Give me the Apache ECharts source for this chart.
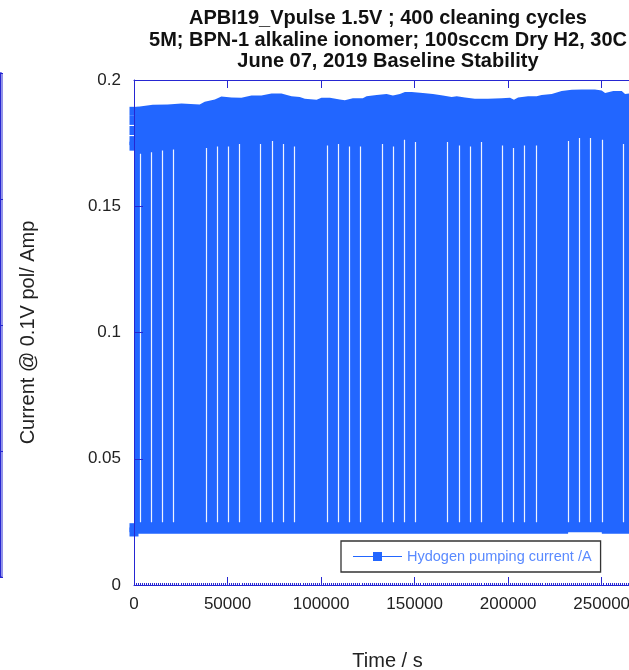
<!DOCTYPE html>
<html><head><meta charset="utf-8">
<script src="https://cdn.jsdelivr.net/npm/echarts@6/dist/echarts.min.js"></script>
<style>html,body{margin:0;padding:0;background:#fff}#c{width:629px;height:670px}</style>
</head><body><div id="c"></div>
<script>
// ---- chart data ----
const titleText = 'APBI19_Vpulse 1.5V ; 400 cleaning cycles\n5M; BPN-1 alkaline ionomer; 100sccm Dry H2, 30C\nJune 07, 2019 Baseline Stability';
const seriesName = 'Hydogen pumping current /A';
const xName = 'Time / s';
const yName = 'Current @ 0.1V pol/ Amp';
const xMin = 0, xMax = 271000, xStep = 50000;
const yMin = 0, yMax = 0.2, yStep = 0.05;

// upper envelope of the pulsed current (A) vs time (s)
const topTime = [0, 4100, 10000, 18000, 25400, 35100, 37800, 43200, 46700, 52100,
  57400, 62800, 68100, 73500, 78800, 84200, 88600, 91300, 97600, 100200,
  104700, 110000, 112700, 117000, 122300, 124300, 129700, 135000, 138400, 142100,
  144800, 148400, 154400, 159800, 165100, 169800, 172500, 176900, 182200, 189200,
  196500, 201000, 203100, 205300, 210600, 215200, 217900, 223300, 228600, 234000,
  239300, 246400, 250000, 251800, 256200, 260700, 262500, 271000];
const topValue = [0.1892, 0.1896, 0.1902, 0.1903, 0.1907, 0.1903, 0.1914, 0.1923, 0.1935, 0.1931,
  0.1930, 0.1939, 0.1939, 0.1947, 0.1947, 0.1936, 0.1933, 0.1926, 0.1922, 0.1930,
  0.1930, 0.1923, 0.1920, 0.1928, 0.1928, 0.1936, 0.1941, 0.1945, 0.1939, 0.1945,
  0.1952, 0.1952, 0.1949, 0.1945, 0.1939, 0.1933, 0.1936, 0.1931, 0.1926, 0.1926,
  0.1928, 0.1930, 0.1922, 0.1931, 0.1936, 0.1936, 0.1941, 0.1945, 0.1956, 0.1961,
  0.1962, 0.1962, 0.1958, 0.1949, 0.1956, 0.1956, 0.1945, 0.1950];
// lower envelope (base current between pulses)
const lowTime = [0, 232000, 232100, 250000, 250100, 271000];
const lowValue = [0.0203, 0.0203, 0.0209, 0.0209, 0.0203, 0.0203];
// pauses between pulse blocks (time, upper end of the pause)
const gapTime = [3000, 8900, 15000, 21100, 38400, 44200, 50300, 56200, 67600, 73500,
  79500, 85400, 102900, 108800, 114800, 120700, 132300, 138200, 144100, 150200,
  167400, 173500, 179600, 185400, 196700, 202700, 208600, 214700, 232100, 238000,
  243900, 250000, 261200];
const gapTop = [0.1708, 0.1714, 0.1721, 0.1725, 0.1731, 0.1737, 0.1737, 0.1747, 0.1747, 0.1758,
  0.1747, 0.1737, 0.1741, 0.1747, 0.1737, 0.1737, 0.1747, 0.1737, 0.1763, 0.1754,
  0.1754, 0.1741, 0.1737, 0.1754, 0.1741, 0.1731, 0.1741, 0.1741, 0.1758, 0.1770,
  0.1770, 0.1763, 0.1747];
const gapBottom = 0.0249;
// first recorded samples at t = 0
const firstTime = [0, 0, 0, 0, 0, 0, 0];
const firstValue = [0.1876, 0.1840, 0.1800, 0.1760, 0.1738, 0.0227, 0.0210];

// ---- styles ----
const bandColor = '#2266ff';
const axisColor = '#2626d2';
const gapColor = '#eef2ff';
const font = 'Liberation Sans, Arial, sans-serif';

const chart = echarts.init(document.getElementById('c'), null, {renderer: 'canvas'});
const fmtX = v => String(v);
const fmtY = v => String(+v.toFixed(2));

chart.setOption({
  animation: false,
  backgroundColor: '#fff',
  title: {
    text: titleText, left: 388, top: 8, textAlign: 'center', padding: 0,
    textStyle: {fontFamily: font, fontSize: 20, fontWeight: 'bold', color: '#111', lineHeight: 21.5}
  },
  legend: {
    left: 341, top: 541, orient: 'horizontal',
    backgroundColor: '#fff', borderColor: '#333', borderWidth: 1.3,
    padding: [8, 9, 8, 12], itemWidth: 49, itemHeight: 10,
    data: [{name: seriesName, icon: 'path://M0,4.5L20,4.5L20,0.5L29,0.5L29,9.5L20,9.5L20,5.5L0,5.5Z M29,4.5L49,4.5L49,5.5L29,5.5Z'}],
    textStyle: {fontFamily: font, fontSize: 14.5, color: '#5a8aff'}
  },
  grid: [
    {left: 134, top: 80, width: 507, height: 505, containLabel: false, outerBoundsMode: 'none'},
    {left: 0, top: 73, width: 2, height: 504, show: true, borderColor: axisColor, borderWidth: 1, containLabel: false, outerBoundsMode: 'none'}
  ],
  xAxis: [
    {
      type: 'value', gridIndex: 0, min: xMin, max: xMax, interval: xStep, position: 'bottom', z: 5,
      name: xName, nameLocation: 'middle', nameGap: 66,
      nameTextStyle: {fontFamily: font, fontSize: 20, color: '#222'},
      axisLine: {show: true, lineStyle: {color: axisColor, width: 1}},
      axisTick: {show: true, inside: true, length: 8, lineStyle: {color: axisColor}},
      minorTick: {show: true, splitNumber: 46, length: 2, lineStyle: {color: axisColor, width: 1}},
      axisLabel: {formatter: fmtX, margin: 11, fontFamily: font, fontSize: 17, color: '#222'},
      splitLine: {show: false}
    },
    {
      type: 'value', gridIndex: 0, min: xMin, max: xMax, interval: xStep, position: 'top', z: 5,
      axisLine: {show: true, lineStyle: {color: axisColor, width: 1}},
      axisTick: {show: true, inside: true, length: 8, lineStyle: {color: axisColor}},
      axisLabel: {show: false}, splitLine: {show: false}
    },
    {type: 'value', gridIndex: 1, min: 0, max: 1, show: false}
  ],
  yAxis: [
    {
      type: 'value', gridIndex: 0, min: yMin, max: yMax, interval: yStep, position: 'left', z: 5,
      name: yName, nameLocation: 'middle', nameGap: 96, nameRotate: 90,
      nameTextStyle: {fontFamily: font, fontSize: 20, color: '#222'},
      axisLine: {show: true, lineStyle: {color: axisColor, width: 1}},
      axisTick: {show: true, inside: true, length: 9, lineStyle: {color: axisColor}},
      axisLabel: {formatter: fmtY, margin: 13, fontFamily: font, fontSize: 17, color: '#222'},
      splitLine: {show: false}
    },
    {
      type: 'value', gridIndex: 1, min: 0, max: 4, interval: 1, position: 'right',
      axisLine: {show: true, lineStyle: {color: axisColor}},
      axisTick: {show: true, inside: false, length: 3, lineStyle: {color: axisColor}},
      axisLabel: {show: false}, splitLine: {show: false}
    }
  ],
  series: [
    {
      name: seriesName, type: 'custom', xAxisIndex: 0, yAxisIndex: 0, clip: true,
      itemStyle: {color: bandColor},
      data: [[topTime[0], topValue[0]]],
      renderItem: function (params, api) {
        const pts = [];
        for (let i = 0; i < topTime.length; i++) pts.push(api.coord([topTime[i], topValue[i]]));
        for (let i = lowTime.length - 1; i >= 0; i--) pts.push(api.coord([lowTime[i], lowValue[i]]));
        return {type: 'polygon', shape: {points: pts}, style: {fill: bandColor}};
      },
      z: 2
    },
    {
      name: 'pauses', type: 'custom', xAxisIndex: 0, yAxisIndex: 0, clip: true,
      itemStyle: {color: gapColor},
      data: gapTime.map((t, i) => [t, gapTop[i]]),
      renderItem: function (params, api) {
        const pTop = api.coord([api.value(0), api.value(1)]);
        const pBot = api.coord([api.value(0), gapBottom]);
        const x = Math.round(pTop[0]) + 0.5;
        return {type: 'line', shape: {x1: x, y1: pBot[1], x2: x, y2: pTop[1]}, style: {stroke: gapColor, lineWidth: 1.2}};
      },
      z: 3
    },
    {
      name: 'first', type: 'scatter', xAxisIndex: 0, yAxisIndex: 0, clip: false,
      symbol: 'rect', symbolSize: 9, itemStyle: {color: bandColor, opacity: 1},
      data: firstTime.map((t, i) => [t, firstValue[i]]),
      z: 3
    }
  ]
});
</script>
</body></html>
